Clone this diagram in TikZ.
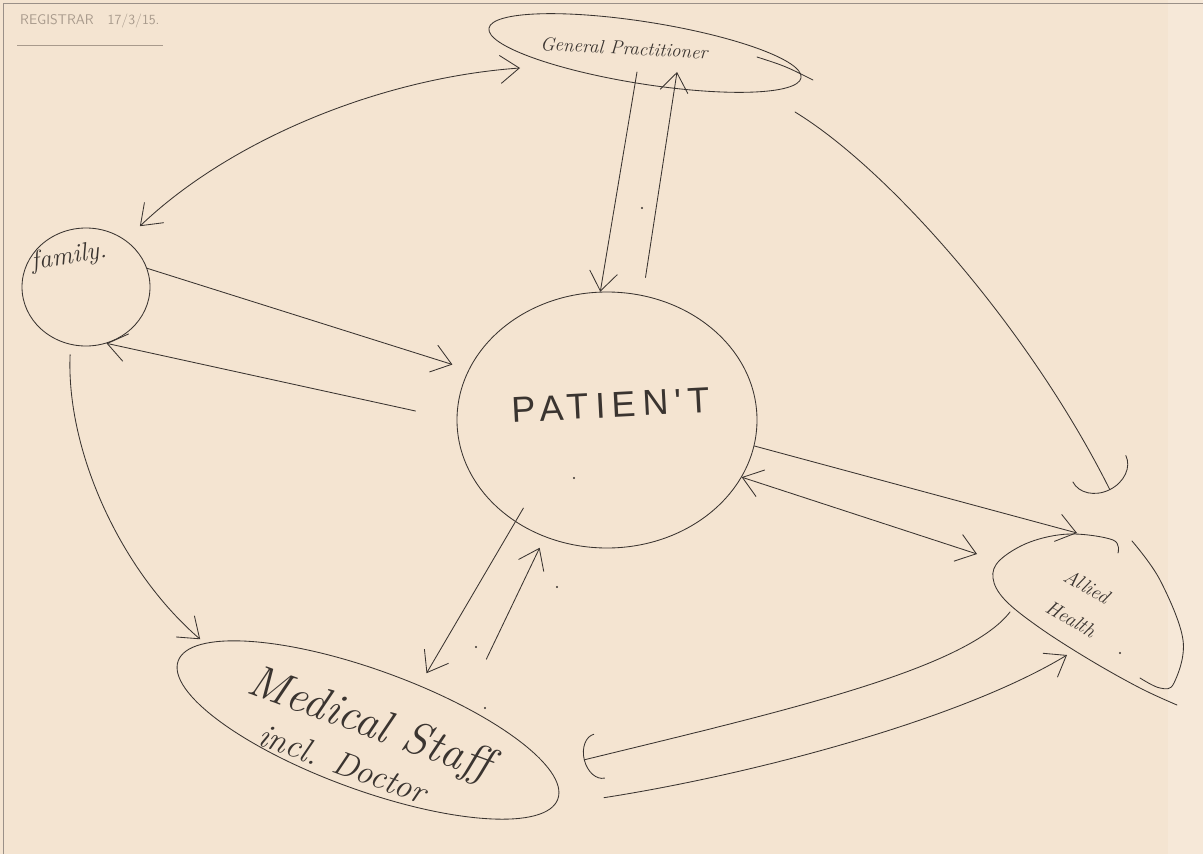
\documentclass[tikz,border=0pt]{standalone}
\usepackage{fontspec}
\usetikzlibrary{shapes.geometric,arrows.meta,calc}
\newfontfamily\capsfont[LetterSpace=18]{Liberation Sans}
\definecolor{paper}{HTML}{F4E4D1}
\definecolor{ink}{HTML}{3A3430}
\definecolor{pencil}{HTML}{A89A8C}
\definecolor{edge}{HTML}{9A9088}

\tikzset{
  sketch/.style={draw=ink, line width=0.85pt, line cap=round, line join=round},
  blob/.style={sketch, ellipse, inner sep=0pt},
  hand/.style={text=ink, inner sep=0pt},
  barb/.tip={Straight Barb[length=19pt,width=28pt]},
  arr/.style={-barb},
  biarr/.style={barb-barb},
  hookarr/.style={-{Arc Barb[length=16pt,width=46pt]}},
  bighook/.style={-{Arc Barb[length=24pt,width=60pt]}},
  speck/.style={fill=ink},
}

\begin{document}
\begin{tikzpicture}[x=1pt,y=-1pt]
  \useasboundingbox (0,0) rectangle (1203,854);
  \fill[paper] (0,0) rectangle (1203,854);
  \fill[paper!85!white] (1168,0) rectangle (1203,854);
  \draw[edge, line width=0.6pt] (3,854) -- (3,3) -- (1203,3);

  % header
  \node[text=pencil, font=\sffamily\fontsize{14}{14}\selectfont, anchor=west, inner sep=0pt]
    (hdr) at (20,21) {REGISTRAR\hspace{14pt}17/3/15.};
  \draw[pencil, line width=0.5pt] (17,45) -- (163,45);

  % the five parties
  \node[blob, minimum width=316pt, minimum height=62pt, rotate=-9] (gp) at (645,53) {};
  \node[blob, minimum width=128pt, minimum height=118pt] (fam) at (86,287) {};
  \node[blob, minimum width=300pt, minimum height=256pt] (pat) at (607,420) {};
  \node[blob, minimum width=404pt, minimum height=120pt, rotate=-20] (med) at (368,730) {};
  \node[ellipse, inner sep=0pt, minimum width=220pt, minimum height=95pt, rotate=-37] (ah) at (1090,620) {};

  % overshoot at the right end of the GP outline
  \draw[sketch] ($(gp.center)+(112,4)$) .. controls ($(gp.center)+(140,13)$) .. ($(gp.center)+(168,27)$);

  % allied health outline, two strokes
  \begin{scope}[shift={(ah.center)}]
    \draw[sketch] plot[smooth, tension=0.6] coordinates
      {(28,-67) (23,-80) (-20,-86) (-60,-78) (-90,-60) (-97,-42) (-85,-20) (-50,8) (0,40) (50,68) (87,85)};
    \draw[sketch] plot[smooth, tension=0.6] coordinates
      {(42,-79) (70,-40) (93,20) (84,63) (70,68) (50,58)};
  \end{scope}

  % labels
  \node[hand, font=\itshape\fontsize{19}{19}\selectfont, rotate=-3] (gpt) at (624,48) {General Practitioner};
  \node[hand, font=\itshape\fontsize{26}{26}\selectfont, rotate=9] (famt) at (69,257) {family.};
  \node[hand, font=\capsfont\fontsize{36}{36}\selectfont, rotate=3] (patt) at (611,405) {PATIEN'T};
  \node[hand, align=left, font=\itshape\fontsize{20}{20}\selectfont\addfontfeatures{LetterSpace=10}, rotate=-30]
    (aht) at ($(ah.center)+(-10,-17)$) {Allied\\[16pt]Health};
  \node[hand, align=left, font=\itshape, rotate=-20] (medt) at (363,742)
    {{\fontsize{46}{46}\selectfont Medical Staff}\\[11pt]
     \hspace*{28pt}{\fontsize{34}{34}\selectfont incl. Doctor}};

  % GP <-> family
  \draw[sketch, biarr, shorten <=20pt] (fam.50) .. controls (230,140) and (380,78) .. ($(gp.center)+(-125,15)$);
  % GP <-> patient
  \draw[sketch, arr] ($(gp.center)+(-8,19)$) -- (pat.93);
  \draw[sketch, arr, shorten <=18pt] (pat.74) -- ($(gp.center)+(32,19)$);
  % family <-> patient
  \draw[sketch, arr, shorten >=17pt] (fam.17) -- (pat.160);
  \draw[sketch, arr, shorten <=42pt] (pat.180) -- (fam.-70);
  % patient <-> allied health
  \draw[sketch, arr] (pat.-10) -- ($(ah.center)+(-13,-87)$);
  \draw[sketch, biarr] (pat.-23) -- ($(ah.center)+(-113,-66)$);
  % patient <-> medical staff
  \draw[sketch, arr, shorten <=-16pt, shorten >=14pt] (pat.-132) -- (med.61);
  \draw[sketch, arr, shorten <=52pt, shorten >=12pt] (med.34) -- (pat.-118);
  % family -> medical staff
  \draw[sketch, arr, shorten <=10pt, shorten >=6pt] (fam.-105) .. controls (66,450) and (120,570) .. (med.172);
  % GP -> allied health
  \draw[sketch, bighook] ($(gp.center)+(150,59)$) .. controls (890,170) and (1030,330) .. ($(ah.center)+(20,-130)$);
  % medical staff <-> allied health
  \draw[sketch, hookarr, shorten >=36pt] ($(ah.center)+(-80,-8)$) .. controls (965,670) and (780,712) .. (med.8);
  \draw[sketch, arr, shorten <=50pt] (med.-2) .. controls (750,775) and (960,720) .. ($(ah.center)+(-23,35)$);

  % stray pen marks
  \foreach \p in {(574,478),(642,208),(557,587),(476,647),(485,708),(1120,653)}
    \fill[speck] \p circle (1.2pt);
\end{tikzpicture}
\end{document}
